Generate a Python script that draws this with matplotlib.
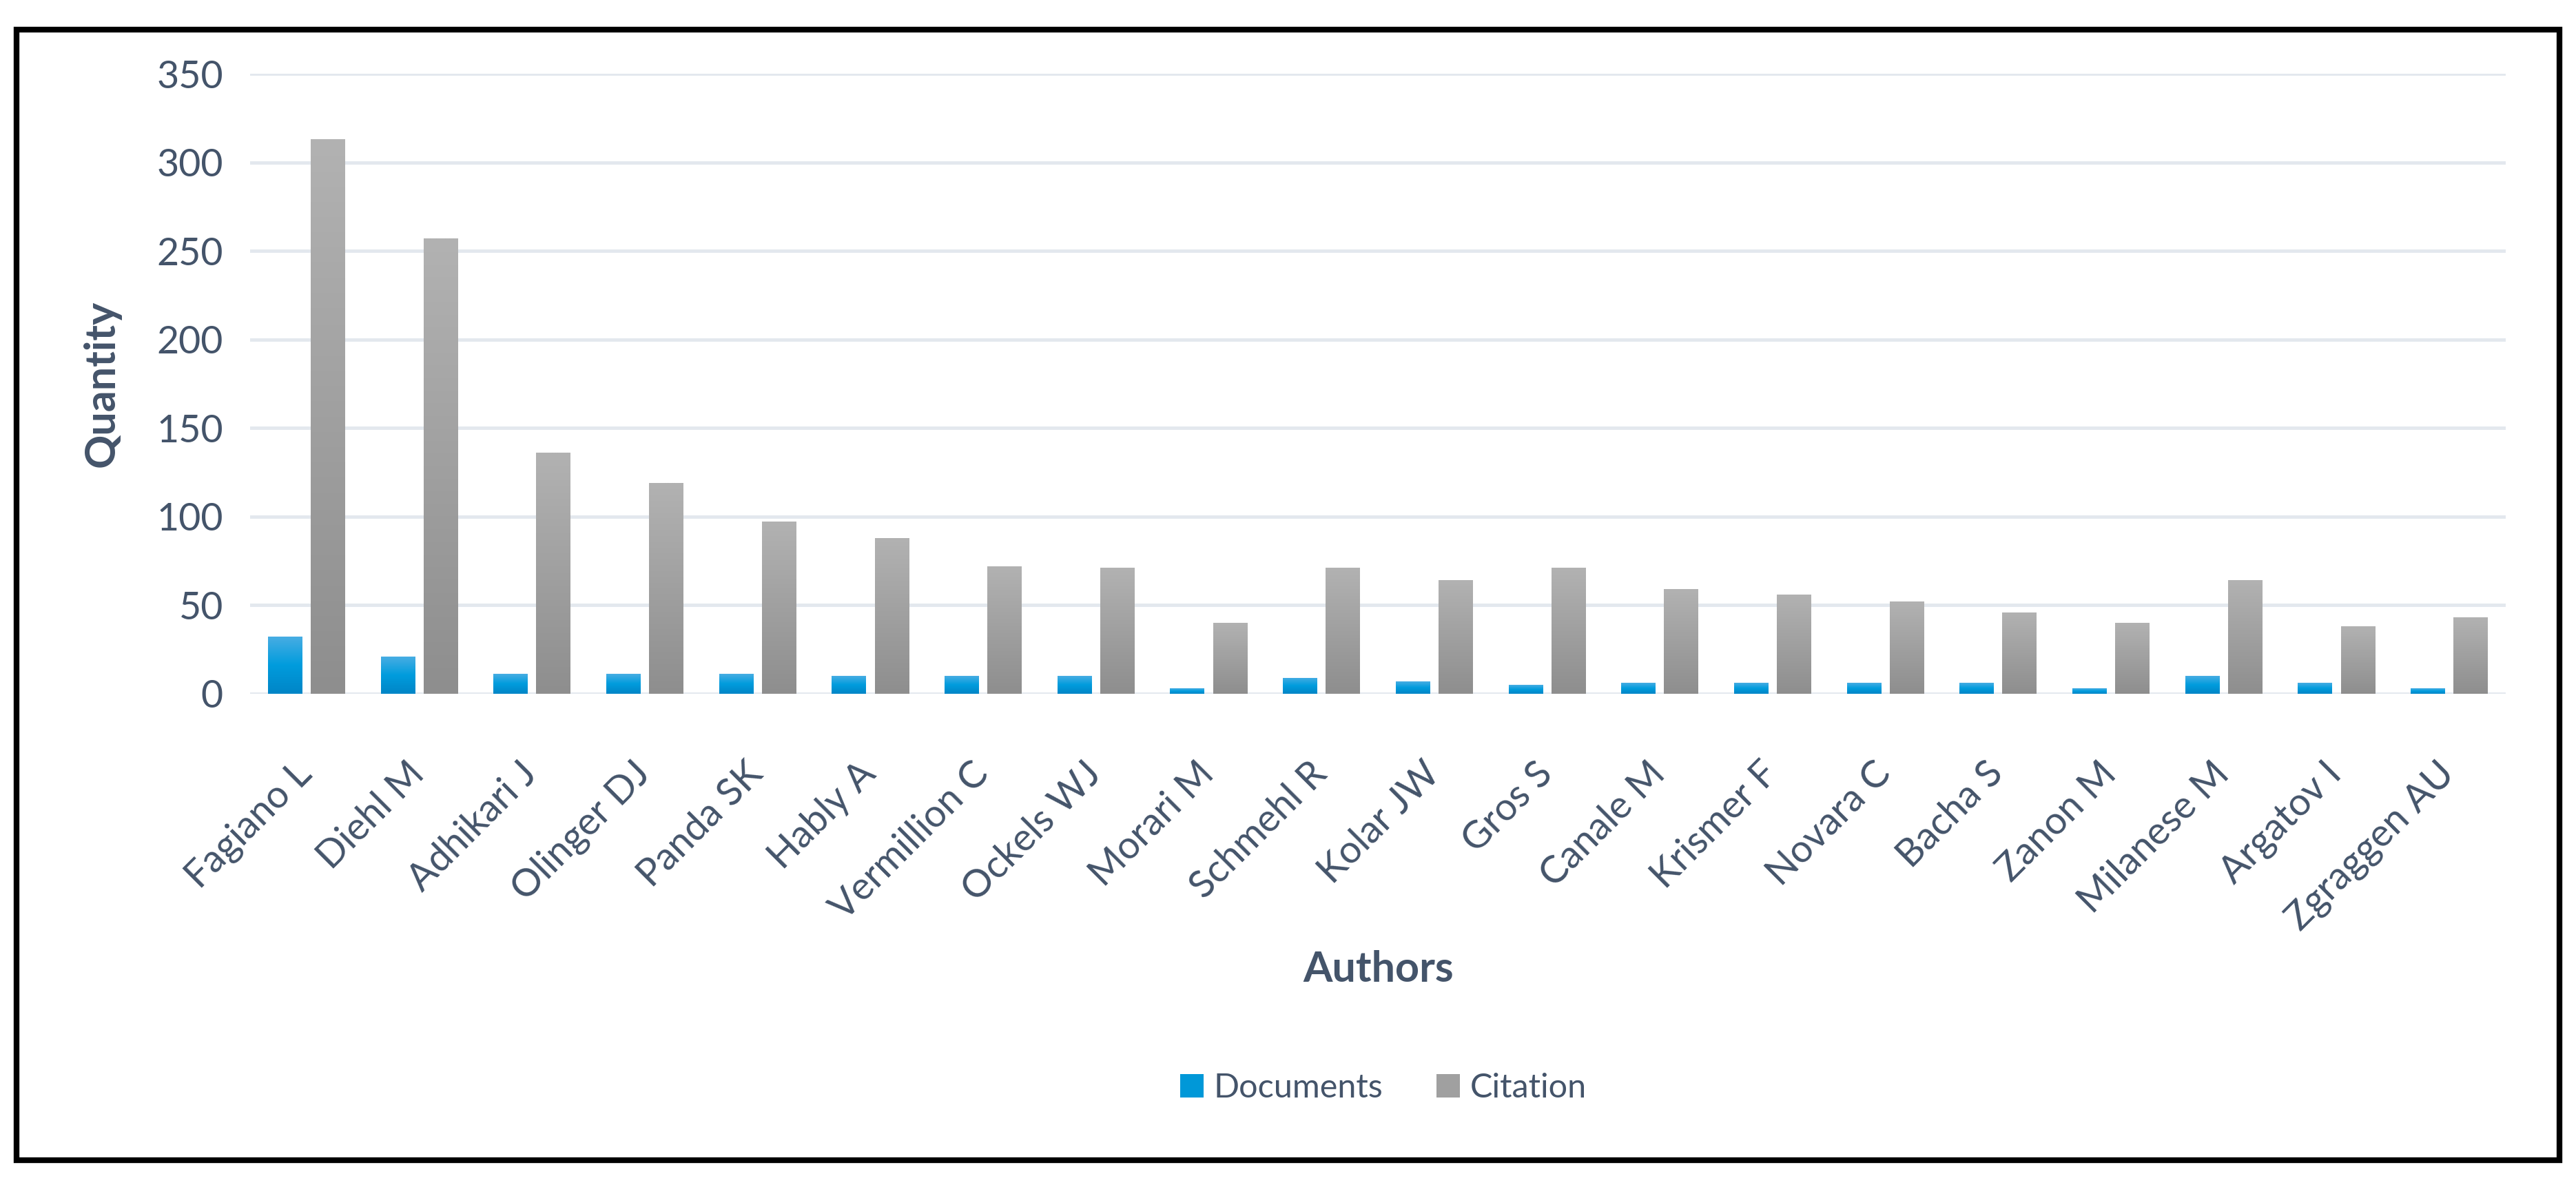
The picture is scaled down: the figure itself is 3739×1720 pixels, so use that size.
import numpy as np
import matplotlib
matplotlib.use("Agg")
import matplotlib.pyplot as plt
from matplotlib.colors import LinearSegmentedColormap
from matplotlib.patches import Rectangle

# Data
authors = ["Fagiano L", "Diehl M", "Adhikari J", "Olinger DJ", "Panda SK",
           "Hably A", "Vermillion C", "Ockels WJ", "Morari M", "Schmehl R",
           "Kolar JW", "Gros S", "Canale M", "Krismer F", "Novara C",
           "Bacha S", "Zanon M", "Milanese M", "Argatov I", "Zgraggen AU"]
documents = [32, 21, 11, 11, 11, 10, 10, 10, 3, 9, 7, 5, 6, 6, 6, 6, 3, 10, 6, 3]
citations = [313, 257, 136, 119, 97, 88, 72, 71, 40, 71, 64, 71, 59, 56, 52, 46, 40, 64, 38, 43]
yticks = [0, 50, 100, 150, 200, 250, 300, 350]

text_color = "#44546A"
grid_color = "#E3E8EE"
blue = "#0098D8"
grey = "#A0A0A0"

plt.rcParams["font.family"] = ["Lato", "DejaVu Sans"]


def gradient_fill(ax, bars, colors):
    cmap = LinearSegmentedColormap.from_list("g", colors)
    grad = np.linspace(0, 1, 256).reshape(-1, 1)
    for b in bars:
        x, y = b.get_x(), b.get_y()
        w, h = b.get_width(), b.get_height()
        im = ax.imshow(grad, cmap=cmap, aspect="auto", origin="lower",
                       extent=[x, x + w, y, y + h], zorder=3)
        im.set_clip_path(b)


def main():
    fig = plt.figure(figsize=(37.39, 17.20), dpi=100)
    ax = fig.add_axes([0.097, 0.4147, 0.8756, 0.5229])

    x = np.arange(len(authors))
    w = 0.3
    gap = 0.04
    b1 = ax.bar(x - w / 2 - gap, documents, w, color=blue, zorder=2,
                label="Documents")
    b2 = ax.bar(x + w / 2 + gap, citations, w, color=grey, zorder=2,
                label="Citation")
    gradient_fill(ax, b1, ["#0085C6", "#009CDD", "#48ADE3"])
    gradient_fill(ax, b2, ["#8E8E8E", "#A0A0A0", "#B2B2B2"])

    ax.set_xlim(-0.5, len(authors) - 0.5)
    ax.set_ylim(0, 350)
    ax.set_yticks(yticks)
    ax.yaxis.grid(True, color=grid_color, linewidth=3.5, zorder=0)
    ax.set_axisbelow(True)
    for s in ax.spines.values():
        s.set_visible(False)
    ax.tick_params(axis="both", length=0, labelsize=40, colors=text_color)
    ax.tick_params(axis="y", pad=28)
    ax.set_xticks(x)
    ax.set_xticklabels(authors, rotation=45, ha="right", va="center",
                       rotation_mode="anchor")
    ax.tick_params(axis="x", pad=78)

    fig.text(0.0395, 0.676, "Quantity", rotation=90, ha="center", va="center",
             fontsize=44, fontweight="bold", color=text_color)
    fig.text(0.535, 0.182, "Authors", ha="center", va="center",
             fontsize=44, fontweight="bold", color=text_color)

    leg = fig.legend(handles=[b1, b2], loc="center", ncol=2,
                     bbox_to_anchor=(0.537, 0.082), frameon=False,
                     fontsize=35, handlelength=0.7, handleheight=0.7,
                     handletextpad=0.3, columnspacing=1.6)
    for t in leg.get_texts():
        t.set_color(text_color)

    fig.patches.append(Rectangle((0.0064, 0.0208), 0.9872, 0.9542,
                                 transform=fig.transFigure, fill=False,
                                 edgecolor="black", linewidth=6))

    fig.savefig("out.png", dpi=100, facecolor="white")


if __name__ == "__main__":
    main()
